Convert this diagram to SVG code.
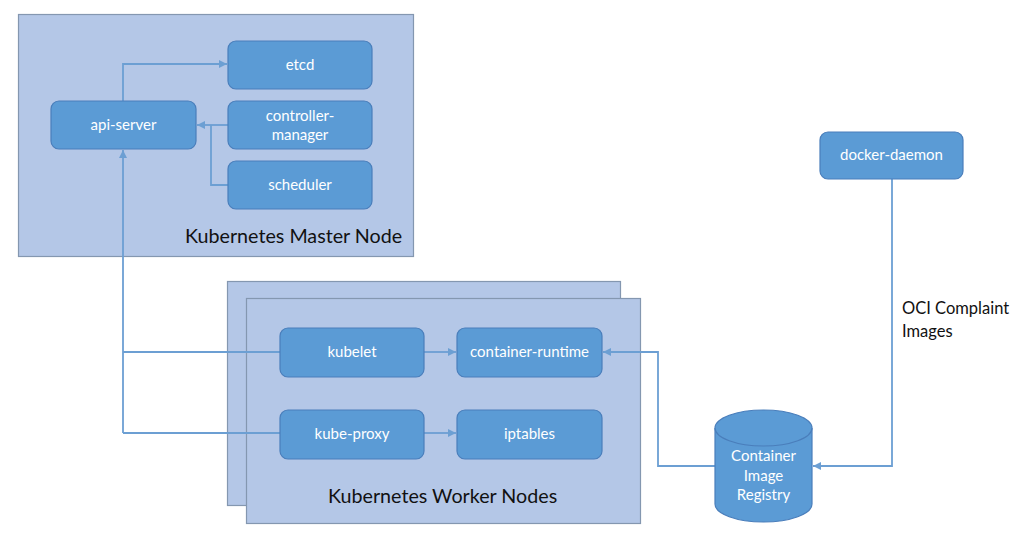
<svg xmlns="http://www.w3.org/2000/svg" width="1024" height="536" viewBox="0 0 1024 536">
<style>
.panel{fill:#b4c7e7;stroke:#8497b0;stroke-width:1.2}
.node{fill:#5b9bd5;stroke:#4a7ebb;stroke-width:1.2}
.nt{font-family:Lato,"Liberation Sans",sans-serif;font-size:15px;fill:#ffffff;text-anchor:middle}
.big{font-family:Lato,"Liberation Sans",sans-serif;font-size:19.7px;fill:#111111}
.lbl{font-family:Lato,"Liberation Sans",sans-serif;font-size:16.5px;fill:#111111}
.conn{fill:none;stroke:#6c9fd3;stroke-width:1.8}
.arr{marker-end:url(#ah)}
</style>
<defs>
<marker id="ah" markerUnits="userSpaceOnUse" markerWidth="9" markerHeight="9" refX="8" refY="4.5" orient="auto">
<path d="M0,0.5 L8,4.5 L0,8.5 z" fill="#6c9fd3"/>
</marker>
</defs>
<rect width="1024" height="536" fill="#ffffff"/>
<g id="master-node">
<rect class="panel" x="18.5" y="14.5" width="395" height="242"/>
<text class="big" x="185" y="243">Kubernetes Master Node</text>
</g>
<g id="worker-nodes-back">
<rect class="panel" x="227.5" y="281.5" width="393" height="224"/>
</g>
<g id="worker-nodes">
<rect class="panel" x="246.5" y="298.5" width="394" height="225"/>
<text class="big" x="328" y="503">Kubernetes Worker Nodes</text>
</g>
<g id="connectors">
<path class="conn arr" d="M123,101 V64 H227"/>
<path class="conn arr" d="M228,125 H197"/>
<path class="conn" d="M228,185 H211 V125"/>
<path class="conn arr" d="M123,433 V150"/>
<path class="conn" d="M123,352 H280"/>
<path class="conn" d="M123,433 H280"/>
<path class="conn arr" d="M424,352 H456"/>
<path class="conn arr" d="M424,433 H456"/>
<path class="conn arr" d="M715,466 H658 V352 H603"/>
<path class="conn arr" d="M892,179 V466 H813"/>
</g>
<g id="etcd">
<rect class="node" x="228" y="41" width="144" height="48" rx="8"/>
<text class="nt" x="300" y="70">etcd</text>
</g>
<g id="api-server">
<rect class="node" x="51" y="101" width="145" height="48" rx="8"/>
<text class="nt" x="123.5" y="130">api-server</text>
</g>
<g id="controller-manager">
<rect class="node" x="228" y="101" width="144" height="48" rx="8"/>
<text class="nt" x="300" y="121">controller-</text>
<text class="nt" x="300" y="140">manager</text>
</g>
<g id="scheduler">
<rect class="node" x="228" y="161" width="144" height="48" rx="8"/>
<text class="nt" x="300" y="190">scheduler</text>
</g>
<g id="kubelet">
<rect class="node" x="280" y="328" width="144" height="49" rx="8"/>
<text class="nt" x="352" y="357">kubelet</text>
</g>
<g id="container-runtime">
<rect class="node" x="457" y="328" width="145" height="49" rx="8"/>
<text class="nt" x="529.5" y="357">container-runtime</text>
</g>
<g id="kube-proxy">
<rect class="node" x="280" y="410" width="144" height="49" rx="8"/>
<text class="nt" x="352" y="439">kube-proxy</text>
</g>
<g id="iptables">
<rect class="node" x="457" y="410" width="145" height="49" rx="8"/>
<text class="nt" x="529.5" y="439">iptables</text>
</g>
<g id="docker-daemon">
<rect class="node" x="820" y="132" width="143" height="47" rx="8"/>
<text class="nt" x="891.5" y="160">docker-daemon</text>
</g>
<g id="container-image-registry">
<path class="node" d="M715,428 A48.5,18 0 0 1 812,428 V504 A48.5,18 0 0 1 715,504 Z"/>
<path class="node" d="M715,428 A48.5,18 0 0 0 812,428"/>
<text class="nt" x="763.5" y="461">Container</text>
<text class="nt" x="763.5" y="481">Image</text>
<text class="nt" x="763.5" y="500">Registry</text>
</g>
<g id="oci-label">
<text class="lbl" x="902" y="314">OCI Complaint</text>
<text class="lbl" x="902" y="337">Images</text>
</g>
</svg>
